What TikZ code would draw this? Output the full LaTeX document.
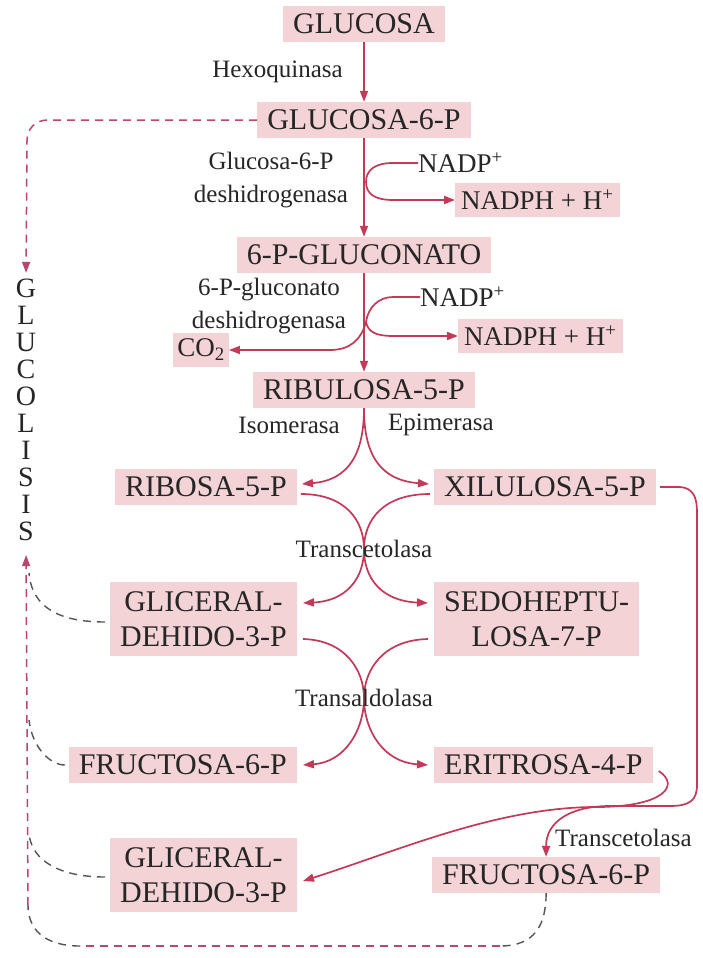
\documentclass[tikz,border=0pt]{standalone}
\usepackage{fontspec}
\setmainfont{Liberation Serif}
\usetikzlibrary{arrows.meta}
\definecolor{boxpink}{HTML}{F3D3D5}
\definecolor{arr}{HTML}{C23A58}
\definecolor{dshred}{HTML}{B8486A}
\definecolor{dshgray}{HTML}{555555}
\definecolor{txt}{HTML}{262626}
\begin{document}
\begin{tikzpicture}[x=1pt,y=-1pt,
  mol/.style={fill=boxpink,text=txt,font=\fontsize{30}{35}\selectfont,inner xsep=10pt,inner ysep=5pt,minimum height=36pt,align=center},
  mol2/.style={mol,inner ysep=9pt},
  lab/.style={text=txt,font=\fontsize{25}{33}\selectfont,inner sep=0pt,align=center},
  cof/.style={text=txt,font=\fontsize{27}{30}\selectfont,inner sep=0pt},
  cofbox/.style={fill=boxpink,text=txt,font=\fontsize{27}{30}\selectfont,inner xsep=6pt,minimum height=34pt},
  letters/.style={text=txt,font=\fontsize{28}{27}\selectfont,inner sep=0pt,align=center},
  tip/.style={-{Triangle[length=11pt,width=8pt]}},
  rx/.style={draw=arr,line width=1.7pt,tip},
  ln/.style={draw=arr,line width=1.7pt},
  dshr/.style={draw=dshred,line width=1.5pt,dash pattern=on 8pt off 6pt},
  dshg/.style={draw=dshgray,line width=1.4pt,dash pattern=on 8pt off 6pt},
]
\fill[white] (0,0) rectangle (703,958);
\useasboundingbox (0,0) rectangle (703,958);

% nodes
\node[mol] (glc) at (364,24) {GLUCOSA};
\node[lab,anchor=east] (hex) at (343,72) {Hexoquinasa};
\node[mol] (g6p) at (364,120) {GLUCOSA-6-P};
\node[lab] (gdh) at (271,180) {Glucosa-6-P\\deshidrogenasa};
\node[cof,anchor=west] (np1) at (418,163) {NADP\textsuperscript{+}};
\node[cofbox,anchor=west] (nh1) at (455,200) {NADPH + H\textsuperscript{+}};
\node[mol] (gcn) at (364,255) {6-P-GLUCONATO};
\node[lab] (pgd) at (269,306) {6-P-gluconato\\deshidrogenasa};
\node[cof,anchor=west] (np2) at (420,297) {NADP\textsuperscript{+}};
\node[cofbox,anchor=west] (nh2) at (458,336) {NADPH + H\textsuperscript{+}};
\node[cofbox,inner xsep=4pt] (co2) at (201,350) {CO\textsubscript{2}};
\node[mol] (rbl) at (364,390) {RIBULOSA-5-P};
\node[lab,anchor=east] (iso) at (340,425) {Isomerasa};
\node[lab,anchor=west] (epi) at (388,425) {Epimerasa};
\node[mol,anchor=east] (rbs) at (297,487) {RIBOSA-5-P};
\node[mol,anchor=west] (xil) at (434,487) {XILULOSA-5-P};
\node[mol2,anchor=east] (gl1) at (297,619) {GLICERAL-\\DEHIDO-3-P};
\node[mol2,anchor=west] (sed) at (434,619) {SEDOHEPTU-\\LOSA-7-P};
\node[mol,anchor=east] (fr1) at (297,765) {FRUCTOSA-6-P};
\node[mol,anchor=west] (eri) at (434,765) {ERITROSA-4-P};
\node[mol2,anchor=east] (gl2) at (297,875) {GLICERAL-\\DEHIDO-3-P};
\node[mol,anchor=west] (fr2) at (432,875) {FRUCTOSA-6-P};
\node[letters] (gly) at (26,410) {G\\L\\U\\C\\O\\L\\I\\S\\I\\S};

\coordinate (x1) at (364,549);
\coordinate (x2) at (364,698);

% main chain
\draw[rx] (glc.south) -- (g6p.north);
\draw[rx] (g6p.south) -- (gcn.north);
\draw[rx] (gcn.south) -- (rbl.north);

% NADP 1
\draw[ln] (np1.west) -- (393,163) .. controls (375,163) and (366,170) .. (366,182) coordinate (j1);
\draw[rx] (j1) .. controls (366,194) and (375,200) .. (393,200) -- (nh1.west);
% NADP 2 and CO2
\draw[ln] (np2.west) -- (393,297) .. controls (378,297) and (368,308) .. (366,322) coordinate (j2);
\draw[rx] (j2) .. controls (361,340) and (350,350) .. (330,350) -- (co2.east);
\draw[rx] (j2) .. controls (368,332) and (376,336) .. (393,336) -- (nh2.west);

% ribulose split
\draw[rx] (rbl.south) .. controls (364,452) and (350,480) .. ([shift={(5,-3)}]rbs.east);
\draw[rx] (rbl.south) .. controls (364,452) and (378,480) .. ([shift={(-5,-3)}]xil.west);

% transcetolasa
\draw[ln] ([shift={(4,7)}]rbs.east) .. controls (345,494) and (364,520) .. (x1);
\draw[ln] ([shift={(-4,7)}]xil.west) .. controls (383,494) and (364,520) .. (x1);
\draw[rx] (x1) .. controls (364,580) and (345,601) .. ([shift={(6,-16)}]gl1.east);
\draw[rx] (x1) .. controls (364,580) and (383,601) .. ([shift={(-6,-16)}]sed.west);

% transaldolasa
\draw[ln] ([shift={(6,20)}]gl1.east) .. controls (345,640) and (364,670) .. (x2);
\draw[ln] ([shift={(-6,20)}]sed.west) .. controls (383,640) and (364,670) .. (x2);
\draw[rx] (x2) .. controls (364,730) and (345,762) .. ([shift={(6,0)}]fr1.east);
\draw[rx] (x2) .. controls (364,730) and (383,762) .. ([shift={(-6,0)}]eri.west);

% eritrosa -> gliceraldehido 2
\draw[rx] ([shift={(6,6)}]eri.east) .. controls (680,785) and (665,806) .. (600,807) .. controls (500,806) and (400,850) .. ([shift={(6,6)}]gl2.east);
% xilulosa -> fructosa 2
\draw[rx] ([shift={(4,0)}]xil.east) -- (680,487) .. controls (693,488) and (697,497) .. (697,512) -- (697,785) .. controls (697,800) and (690,806) .. (670,806) -- (610,806) .. controls (570,806) and (546,822) .. (fr2.north);

% labels drawn over lines
\node[lab] (tk1) at (x1) {Transcetolasa};
\node[lab] (ta) at (x2) {Transaldolasa};
\node[lab,anchor=west] (tk2) at (555,838) {Transcetolasa};

% glucolisis dashed
\draw[dshr,tip,shorten >=6pt] (g6p.west) -- (48,120) .. controls (35,120) and (27,129) .. (27,141) -- (gly.north);
\draw[dshr,tip,shorten >=14pt] (28,905) -- (gly.south);
\draw[dshg] ([shift={(-5,3)}]gl1.west) .. controls (60,622) and (32,608) .. (29,573);
\draw[dshg] ([shift={(-4,0)}]fr1.west) .. controls (50,765) and (32,747) .. (29,720);
\draw[dshg] ([shift={(-5,2)}]gl2.west) .. controls (60,877) and (32,861) .. (29,834);
\draw[dshg] (fr2.south) .. controls (546,925) and (535,946) .. (500,946);
\draw[dshr] (500,946) -- (80,946);
\draw[dshg] (80,946) .. controls (45,946) and (28,930) .. (28,905);
\end{tikzpicture}
\end{document}
